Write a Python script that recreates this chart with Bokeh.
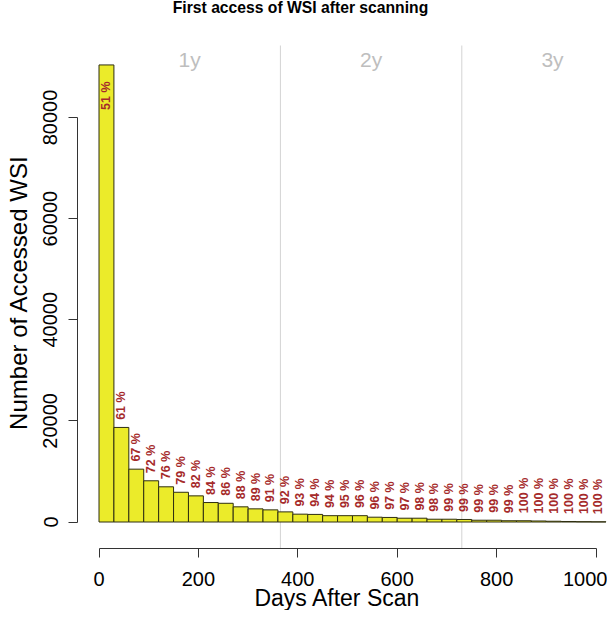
import numpy as np
from bokeh.plotting import figure
from bokeh.models import Range1d, FixedTicker, BasicTickFormatter
from bokeh.core.properties import value
from bokeh.embed import file_html
from bokeh.resources import INLINE

# ---- data ----
bin_width = 30  # days per bin
counts = [90400, 18700, 10450, 8150, 6960, 5880, 5170, 3850, 3700, 3000,
          2600, 2400, 2000, 1550, 1500, 1250, 1250, 1250, 950, 900,
          750, 750, 550, 550, 500, 350, 350, 250, 250, 200,
          150, 100, 60, 40]
pct_labels = ["51 %", "61 %", "67 %", "72 %", "76 %", "79 %", "82 %", "84 %", "86 %", "88 %",
              "89 %", "91 %", "92 %", "93 %", "94 %", "94 %", "95 %", "96 %", "96 %", "97 %",
              "97 %", "98 %", "98 %", "99 %", "99 %", "99 %", "99 %", "99 %", "100 %", "100 %",
              "100 %", "100 %", "100 %", "100 %"]
year_labels = ["1y", "2y", "3y"]
year_bounds = [0, 365, 730, 1095]
x_ticks = [0, 200, 400, 600, 800, 1000]
y_ticks = [0, 20000, 40000, 60000, 80000]

title_text = "First access of WSI after scanning"
x_title = "Days After Scan"
y_title = "Number of Accessed WSI"

# ---- layout (pixel geometry of the canvas) ----
W, H = 607, 610
X0_PX, X_SCALE = 98.5, 0.497      # pixel of day 0, pixels per day
Y0_PX, Y_SCALE = 521.5, 5.056e-3  # pixel of count 0, pixels per count


def dx(px):
    return (px - X0_PX) / X_SCALE


def dy(py):
    return (Y0_PX - py) / Y_SCALE


plot_left, plot_top, plot_bottom = dx(77), dy(45), dy(548)

# ---- derived ----
counts_a = np.array(counts, dtype=float)
left = np.arange(len(counts)) * bin_width
right = left + bin_width
centers = left + bin_width / 2
label_y = np.minimum(counts_a, y_ticks[-1]) + 1500
year_mid = [(a + b) / 2 for a, b in zip(year_bounds[:-1], year_bounds[1:])]
year_lines = year_bounds[1:-1]

FONT = "Liberation Sans"

p = figure(width=W, height=H, output_backend="svg", toolbar_location=None,
           x_range=Range1d(dx(0), dx(W)), y_range=Range1d(dy(H), dy(0)),
           min_border=0)
p.grid.visible = False
p.outline_line_color = None
p.background_fill_color = "white"
p.border_fill_color = "white"

p.segment(x0=year_lines, y0=[plot_bottom] * len(year_lines),
          x1=year_lines, y1=[plot_top] * len(year_lines),
          line_color="#D3D3D3", line_width=1)

p.quad(left=left, right=right, bottom=0, top=counts_a,
       fill_color="#EBEB2A", line_color="#2E2E10", line_width=1)

p.text(x=centers, y=label_y, text=pct_labels, angle=np.pi / 2,
       text_align="left", text_baseline="middle",
       text_font=value(FONT), text_font_style="bold", text_font_size="12.5px",
       text_color="#A52A2A")

p.text(x=year_mid, y=[dy(59)] * len(year_mid), text=year_labels,
       text_align="center", text_baseline="alphabetic",
       text_font=value(FONT), text_font_size="21px", text_color="#BEBEBE")

# titles
p.text(x=[dx(300)], y=[dy(6.5)], text=[title_text], text_align="center",
       text_baseline="alphabetic", text_font=value(FONT), text_font_style="bold",
       text_font_size="15.7px", text_color="black")
p.text(x=[dx(337)], y=[dy(597)], text=[x_title], text_align="center",
       text_baseline="middle", text_font=value(FONT), text_font_size="23px",
       text_color="black")
p.text(x=[dx(18)], y=[dy(292)], text=[y_title], text_align="center",
       text_baseline="middle", angle=np.pi / 2, text_font=value(FONT),
       text_font_size="24px", text_color="black")

# axes, fixed at the edges of the plotting region
ax = p.xaxis[0]
ax.fixed_location = plot_bottom
ax.ticker = FixedTicker(ticks=x_ticks)
ax.bounds = (x_ticks[0], x_ticks[-1])
ax.major_tick_out = 9
ax.major_tick_in = 0
ax.minor_tick_out = 0
ax.minor_tick_in = 0
ax.axis_line_color = "#333333"
ax.major_tick_line_color = "#333333"
ax.major_label_text_font = FONT
ax.major_label_text_font_size = "20px"
ax.major_label_text_color = "black"
ax.major_label_standoff = 14

ay = p.yaxis[0]
ay.fixed_location = plot_left
ay.ticker = FixedTicker(ticks=y_ticks)
ay.bounds = (y_ticks[0], y_ticks[-1])
ay.formatter = BasicTickFormatter(use_scientific=False)
ay.major_tick_out = 9
ay.major_tick_in = 0
ay.minor_tick_out = 0
ay.minor_tick_in = 0
ay.axis_line_color = "#333333"
ay.major_tick_line_color = "#333333"
ay.major_label_orientation = "vertical"
ay.major_label_text_font = FONT
ay.major_label_text_font_size = "20px"
ay.major_label_text_color = "black"
ay.major_label_standoff = 11

with open("out.html", "w") as f:
    f.write(file_html(p, INLINE))
